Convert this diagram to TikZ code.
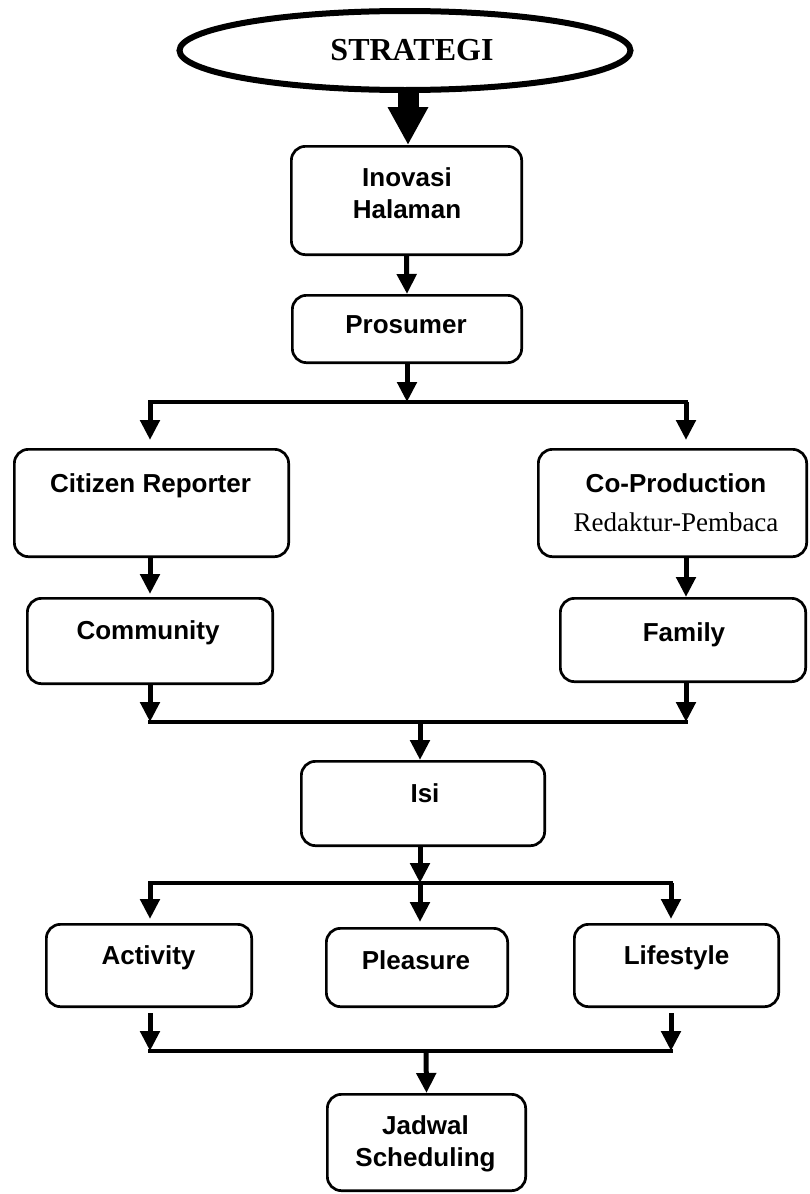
\documentclass[tikz,border=0pt]{standalone}
\usepackage{fontspec}
\setmainfont{Liberation Serif}
\setsansfont{Liberation Sans}
\usetikzlibrary{arrows.meta, positioning, shapes.geometric}

\begin{document}
\begin{tikzpicture}[
    x=1pt, y=-1pt,
    box/.style 2 args={draw, line width=2.7pt, rounded corners=14pt, inner sep=0pt,
      minimum width=#1, minimum height=#2},
    lbl/.style={font=\fontsize{26}{32}\selectfont\sffamily\bfseries, inner sep=0pt,
      anchor=north, align=center},
    strat/.style={ellipse, draw, line width=6pt, minimum width=451pt, minimum height=79pt,
      font=\fontsize{32}{38}\selectfont\rmfamily\bfseries},
    bigarr/.style={line width=21pt, -{Triangle[length=38pt, width=38pt]}},
    arr/.style={line width=5pt, -{Triangle[length=20pt, width=19pt]}},
    bar/.style={line width=4pt, line cap=rect},
]
\useasboundingbox (0,0) rectangle (810,1194);

% Top
\node[strat] (strategi) at (405,50.5) {\hspace{14pt}STRATEGI};
\node[box={230.3pt}{108.3pt}] (inovasi) at (406.5,200.5) {};
\node[lbl] (inovasi-t) at (407,167) {Inovasi\\Halaman};
\node[box={229.3pt}{67.3pt}] (prosumer) at (407,329) {};
\node[lbl] (prosumer-t) at (406,315) {Prosumer};

% Citizen / Co-Production branch
\node[box={274.3pt}{107.3pt}] (citizen) at (151.5,503) {};
\node[lbl] (citizen-t) at (150.5,473) {Citizen Reporter};
\node[box={268.3pt}{107.3pt}] (coprod) at (672.5,503) {};
\node[lbl] (coprod-t) at (676,473) {Co-Production\\[7pt]
  {\fontsize{27}{32}\selectfont\rmfamily\mdseries Redaktur-Pembaca}};
\node[box={245.3pt}{85.3pt}] (community) at (150,641) {};
\node[lbl] (community-t) at (148,620) {Community};
\node[box={245.3pt}{83.3pt}] (family) at (683,640) {};
\node[lbl] (family-t) at (684,622) {Family};

% Isi
\node[box={243.3pt}{84.3pt}] (isi) at (423,803.5) {};
\node[lbl] (isi-t) at (425,783) {Isi};

% Activity / Pleasure / Lifestyle
\node[box={205.3pt}{82.3pt}] (activity) at (149,965.5) {};
\node[lbl] (activity-t) at (148.5,945) {Activity};
\node[box={181.3pt}{78.3pt}] (pleasure) at (417,967.5) {};
\node[lbl] (pleasure-t) at (416,950) {Pleasure};
\node[box={204.3pt}{82.3pt}] (lifestyle) at (676.5,965.5) {};
\node[lbl] (lifestyle-t) at (676.5,945) {Lifestyle};

% Jadwal
\node[box={198.3pt}{96.3pt}] (jadwal) at (426.5,1142.5) {};
\node[lbl] (jadwal-t) at (425.5,1115) {Jadwal\\Scheduling};

% Junctions
\coordinate (j1l) at (150,402);  \coordinate (j1r) at (686,402);
\coordinate (j2l) at (150,722);  \coordinate (j2)  at (420,722);  \coordinate (j2r) at (686,722);
\coordinate (j3l) at (150,883);  \coordinate (j3)  at (420,883);  \coordinate (j3r) at (671,883);
\coordinate (j4l) at (150,1051); \coordinate (j4)  at (426,1051); \coordinate (j4r) at (671,1051);

% Connectors
\draw[bigarr] (strategi.south -| 408,0) -- (inovasi.north -| 408,0);
\draw[arr] (inovasi.south) -- (prosumer.north);
\draw[arr] (prosumer.south) -- (prosumer.south |- j1l);
\draw[bar] (j1l) -- (j1r);
\draw[arr, shorten >=8pt] (j1l) -- (j1l |- citizen.north);
\draw[arr, shorten >=8pt] (j1r) -- (j1r |- coprod.north);
\draw[arr, shorten >=3pt] (citizen.south -| j1l) -- (j1l |- community.north);
\draw[arr] (coprod.south -| j1r) -- (j1r |- family.north);
\draw[arr] (community.south -| j2l) -- (j2l);
\draw[arr] (family.south -| j2r) -- (j2r);
\draw[bar] (j2l) -- (j2r);
\draw[arr] (j2) -- (j2 |- isi.north);
\draw[arr] (isi.south -| j3) -- (j3);
\draw[bar] (j3l) -- (j3r);
\draw[arr, shorten >=4pt] (j3l) -- (j3l |- activity.north);
\draw[arr, shorten >=5pt] (j3) -- (j3 |- pleasure.north);
\draw[arr, shorten >=4pt] (j3r) -- (j3r |- lifestyle.north);
\draw[arr, shorten <=5pt] (activity.south -| j4l) -- (j4l);
\draw[arr, shorten <=5pt] (lifestyle.south -| j4r) -- (j4r);
\draw[bar] (j4l) -- (j4r);
\draw[arr] (j4) -- (jadwal.north);

\end{tikzpicture}
\end{document}
